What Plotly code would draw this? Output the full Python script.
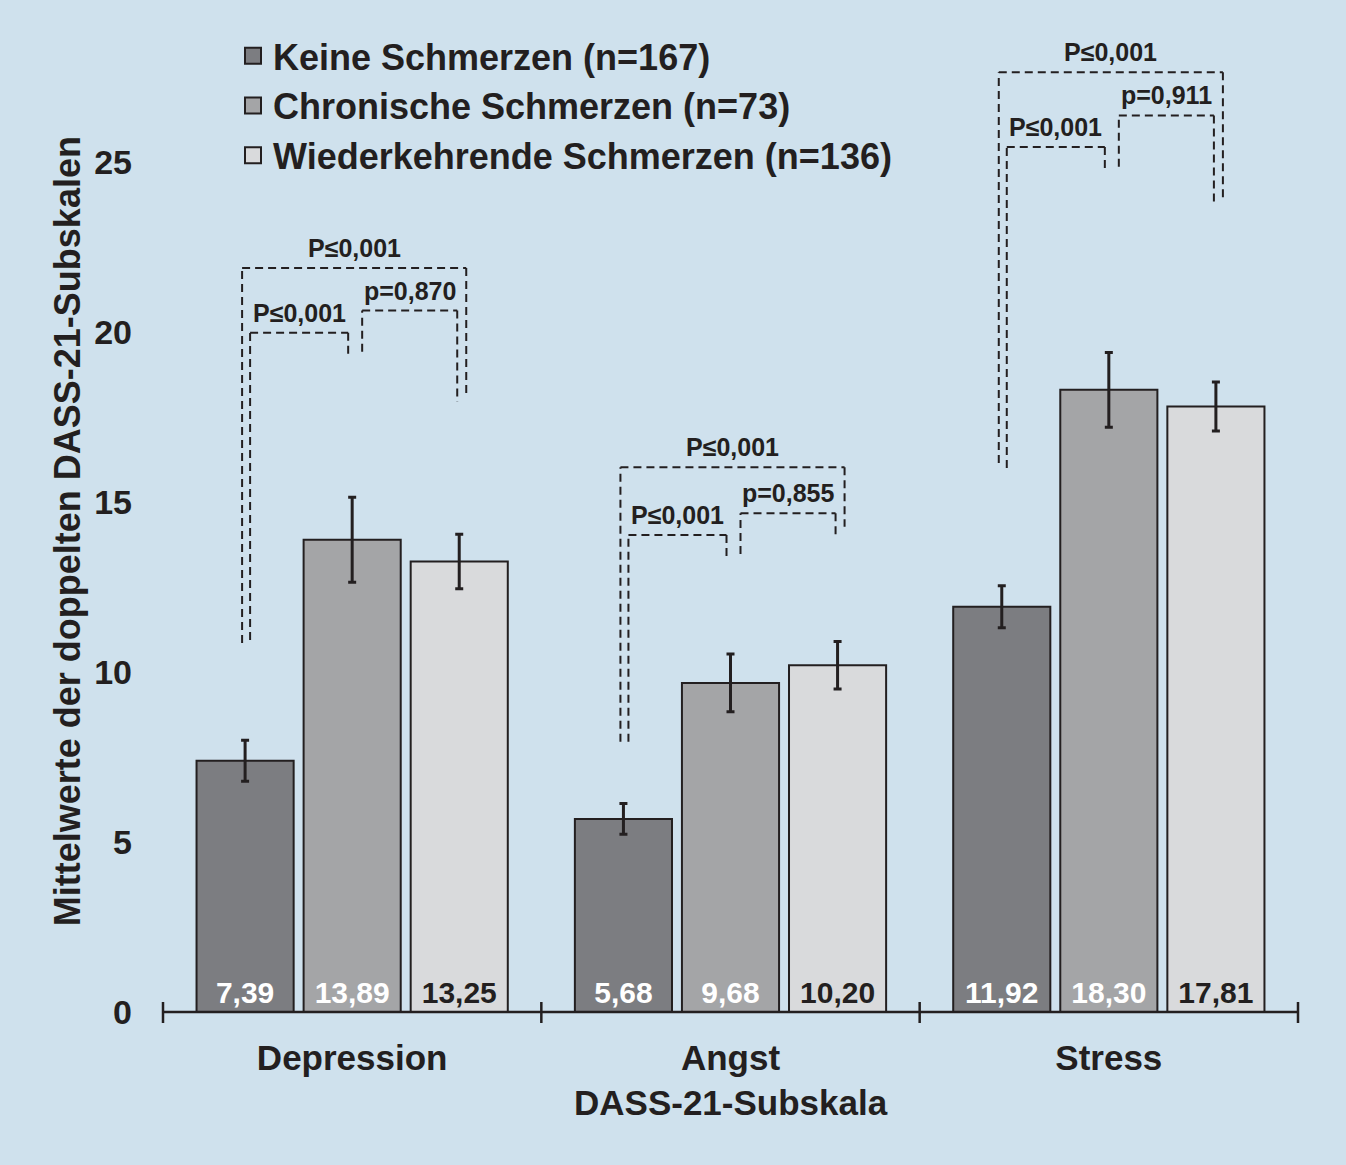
import plotly.graph_objects as go

# DASS-21 subscale means by pain group
subscales = ["Depression", "Angst", "Stress"]
groups = ["Keine Schmerzen (n=167)", "Chronische Schmerzen (n=73)", "Wiederkehrende Schmerzen (n=136)"]
keine = [7.39, 5.68, 11.92]
chronisch = [13.89, 9.68, 18.30]
wiederkehrend = [13.25, 10.20, 17.81]
keine_err = [0.60, 0.45, 0.62]
chronisch_err = [1.25, 0.85, 1.10]
wiederkehrend_err = [0.80, 0.70, 0.72]
y_ticks = [0, 5, 10, 15, 20, 25]

# significance brackets per subscale
p_outer = ["P≤0,001", "P≤0,001", "P≤0,001"]
p_left = ["P≤0,001", "P≤0,001", "P≤0,001"]
p_right = ["p=0,870", "p=0,855", "p=0,911"]
outer_top = [21.88, 16.02, 27.64]
outer_legs = [(10.85, 18.15), (7.95, 14.27), (16.15, 23.88)]
left_top = [19.98, 14.03, 25.44]
left_legs = [(10.94, 19.32), (7.95, 13.39), (16.0, 24.78)]
right_top = [20.63, 14.67, 26.37]
right_legs = [(19.42, 17.95), (13.47, 14.03), (24.86, 23.7)]

INK = "#231f20"
BG = "#cfe1ed"
FONT = "Liberation Sans"
colors = ["#7c7d81", "#a4a5a7", "#d9dadc"]
text_colors = ["white", "white", INK]

W, H = 1346, 1165
ML, MR, MT, MB = 163, 48, 60, 153
BARGAP, GROUPGAP = 0.151, 0.093
px = 3 / (W - ML - MR)  # one pixel in x-axis units
slot = (1 - BARGAP) / 3

x_idx = list(range(len(subscales)))

fig = go.Figure()
series = [keine, chronisch, wiederkehrend]
errors = [keine_err, chronisch_err, wiederkehrend_err]
for name, vals, errs, col, tcol in zip(groups, series, errors, colors, text_colors):
    fig.add_trace(go.Bar(
        x=x_idx, y=vals, name=name, showlegend=False,
        marker=dict(color=col, line=dict(color=INK, width=2)),
        error_y=dict(type="data", array=errs, color=INK, thickness=3, width=4),
        text=[f"{v:.2f}".replace(".", ",") for v in vals],
        textposition="inside", insidetextanchor="start", textangle=0,
        constraintext="none",
        insidetextfont=dict(family=FONT, size=30, color=tcol, weight="bold"),
    ))
    # legend proxy with a larger square
    fig.add_trace(go.Scatter(
        x=[None], y=[None], mode="markers", name=name,
        marker=dict(symbol="square", size=20, color=col, line=dict(color=INK, width=2)),
    ))

shapes = []
annotations = []
dash = dict(color=INK, width=2, dash="8px,5px")


def bracket(xl, xr, top, legs, label):
    shapes.append(dict(type="line", xref="x", yref="y", x0=xl, x1=xl, y0=legs[0], y1=top, line=dash))
    shapes.append(dict(type="line", xref="x", yref="y", x0=xl, x1=xr, y0=top, y1=top, line=dash))
    shapes.append(dict(type="line", xref="x", yref="y", x0=xr, x1=xr, y0=top, y1=legs[1], line=dash))
    annotations.append(dict(x=(xl + xr) / 2, y=top, xref="x", yref="y", text=label, showarrow=False,
                            yanchor="middle", yshift=20,
                            font=dict(family=FONT, size=25, color=INK, weight="bold")))


for i in x_idx:
    c0, c1, c2 = i - slot, i, i + slot
    bracket(c0 - 3 * px, c2 + 7 * px, outer_top[i], outer_legs[i], p_outer[i])
    bracket(c0 + 5 * px, c1 - 4 * px, left_top[i], left_legs[i], p_left[i])
    bracket(c1 + 10 * px, c2 - 2 * px, right_top[i], right_legs[i], p_right[i])

# bottom axis line with crossing tick marks at category boundaries
shapes.append(dict(type="line", xref="paper", yref="paper", x0=0, x1=1, y0=0, y1=0,
                   line=dict(color=INK, width=2.5)))
for k in range(len(subscales) + 1):
    shapes.append(dict(type="line", xref="paper", yref="paper", ysizemode="pixel", yanchor=0,
                       x0=k / 3, x1=k / 3, y0=-11, y1=10, line=dict(color=INK, width=2.5)))

annotations.append(dict(x=-96 / (W - ML - MR), y=0.505, xref="paper", yref="paper",
                        text="Mittelwerte der doppelten DASS-21-Subskalen", textangle=-90,
                        showarrow=False, xanchor="center", yanchor="middle",
                        font=dict(family=FONT, size=36, color=INK, weight="bold")))
annotations.append(dict(x=0.5, y=-90 / (H - MT - MB), xref="paper", yref="paper",
                        text="DASS-21-Subskala", showarrow=False, xanchor="center", yanchor="middle",
                        font=dict(family=FONT, size=35, color=INK, weight="bold")))

fig.update_layout(
    width=W, height=H,
    margin=dict(l=ML, r=MR, t=MT, b=MB),
    paper_bgcolor=BG, plot_bgcolor=BG,
    barmode="group", bargap=BARGAP, bargroupgap=GROUPGAP,
    shapes=shapes, annotations=annotations,
    legend=dict(x=70 / (W - ML - MR), y=1.036, xanchor="left", yanchor="top",
                bgcolor="rgba(0,0,0,0)", itemsizing="trace",
                font=dict(family=FONT, size=36, color=INK, weight="bold")),
    xaxis=dict(range=[-0.5, 2.5], tickvals=x_idx, ticktext=subscales, showgrid=False,
               zeroline=False, showline=False, ticks="", ticklabelstandoff=22,
               tickfont=dict(family=FONT, size=35, color=INK, weight="bold")),
    yaxis=dict(range=[0, 28], tickvals=y_ticks, showgrid=False, zeroline=False,
               showline=False, ticks="", ticklabelstandoff=30,
               tickfont=dict(family=FONT, size=34, color=INK, weight="bold")),
)

fig.write_html("out.html", config={"displayModeBar": False},
               post_script="document.body.style.margin='0';")
